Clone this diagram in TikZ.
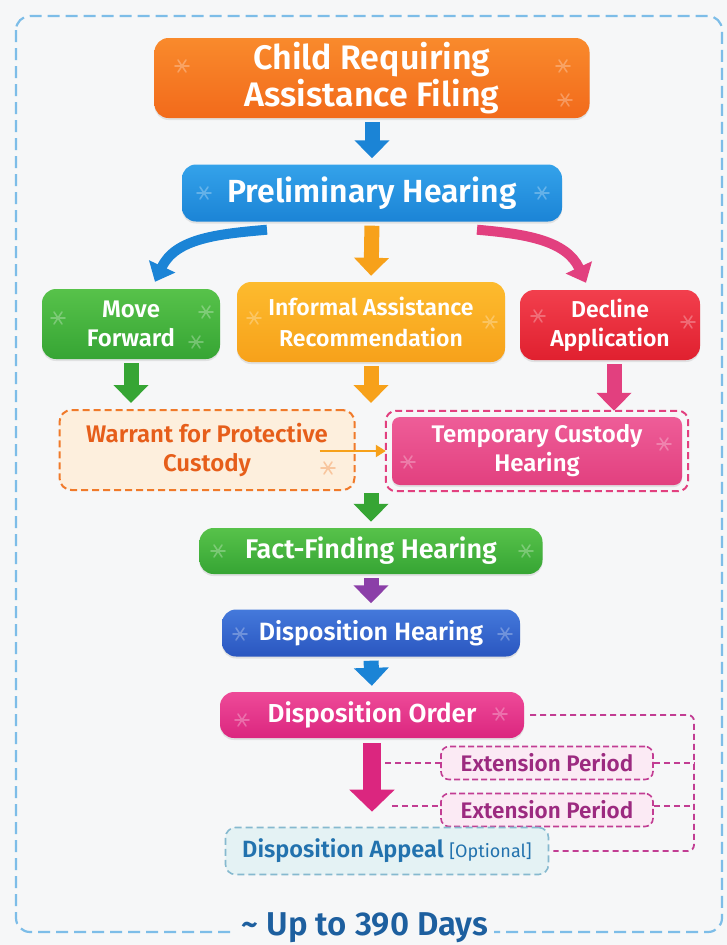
\documentclass[tikz,border=0pt]{standalone}
\usepackage{fontspec}
\setmainfont{Fira Sans}[BoldFont={Fira Sans SemiBold}]
\usetikzlibrary{arrows.meta,shadows,calc}
\definecolor{bgc}{HTML}{F6F7F8}
\definecolor{frame}{HTML}{7DBDE8}
\definecolor{orA}{HTML}{F98A2C}\definecolor{orB}{HTML}{F26A1B}
\definecolor{blA}{HTML}{34A2EA}\definecolor{blB}{HTML}{1B84D6}
\definecolor{grA}{HTML}{57C24A}\definecolor{grB}{HTML}{36A534}
\definecolor{yeA}{HTML}{FDBB2E}\definecolor{yeB}{HTML}{F7A11A}
\definecolor{reA}{HTML}{F23F4D}\definecolor{reB}{HTML}{E0202F}
\definecolor{pkA}{HTML}{EE5D98}\definecolor{pkB}{HTML}{E2407F}
\definecolor{dbA}{HTML}{4479DB}\definecolor{dbB}{HTML}{2A56C0}
\definecolor{mgA}{HTML}{EE4A98}\definecolor{mgB}{HTML}{DB267F}
\definecolor{purp}{HTML}{8B3FA8}
\definecolor{warfill}{HTML}{FDEFDD}\definecolor{warline}{HTML}{F07A2A}\definecolor{wartext}{HTML}{E65E1A}
\definecolor{extfill}{HTML}{FBEAF4}\definecolor{extline}{HTML}{C23D93}\definecolor{exttext}{HTML}{9C2A80}
\definecolor{appfill}{HTML}{E4F2F4}\definecolor{appline}{HTML}{86B9CF}\definecolor{apptext}{HTML}{2272AE}
\definecolor{daytext}{HTML}{1D5F9F}
\begin{document}
\begin{tikzpicture}[x=1pt,y=-1pt,
  box/.style={rounded corners=14pt, text=white, align=center, inner sep=0pt,
    drop shadow={opacity=0.18,shadow xshift=0pt,shadow yshift=-2pt}},
  barrow/.style={line width=15pt, -{Triangle[width=34pt,length=18pt]}, shorten <=4pt, shorten >=6pt},
  carrow/.style={line width=10pt, -{Triangle[width=28pt,length=17pt]}},
  dline/.style={draw=extline, line width=1.8pt, dash pattern=on 6pt off 4pt},
  spark/.pic={\draw[line width=1.6pt, line cap=round] (-7,0)--(7,0) (-4,-6)--(4,6) (-4,6)--(4,-6);}
]
\fill[bgc] (0,0) rectangle (727,945);
\useasboundingbox (0,0) rectangle (727,945);
\draw[frame, line width=2.2pt, dash pattern=on 12pt off 6pt, rounded corners=14pt] (16,16) rectangle (722,932);

% main nodes
\node[box, top color=orA, bottom color=orB, minimum width=435pt, minimum height=80pt,
  font=\fontsize{34}{37}\selectfont\bfseries] (cra) at (372,78) {Child Requiring\\Assistance Filing};
\node[box, top color=blA, bottom color=blB, minimum width=380pt, minimum height=57pt,
  font=\fontsize{32}{34}\selectfont\bfseries] (pre) at (372,193) {Preliminary Hearing};
\node[box, top color=grA, bottom color=grB, minimum width=178pt, minimum height=70pt,
  font=\fontsize{24}{29}\selectfont\bfseries] (mf) at (131,324) {Move\\Forward};
\node[box, top color=yeA, bottom color=yeB, minimum width=268pt, minimum height=80pt,
  font=\fontsize{23}{31}\selectfont\bfseries] (inf) at (371,322) {Informal Assistance\\Recommendation};
\node[box, top color=reA, bottom color=reB, minimum width=180pt, minimum height=70pt,
  font=\fontsize{23}{29}\selectfont\bfseries] (dec) at (610,325) {Decline\\Application};
\node[rounded corners=12pt, fill=warfill, draw=warline, line width=2pt, dash pattern=on 7pt off 4pt,
  minimum width=295pt, minimum height=80pt, align=center, text=wartext,
  font=\fontsize{24}{29}\selectfont\bfseries] (war) at (207,450) {Warrant for Protective\\Custody};
\node[box, top color=pkA, bottom color=pkB, rounded corners=8pt, minimum width=290pt, minimum height=68pt,
  font=\fontsize{24}{29}\selectfont\bfseries] (tch) at (537,451) {Temporary Custody\\Hearing};
\draw[pkB, line width=2pt, dash pattern=on 7pt off 4pt, rounded corners=10pt]
  ([shift={(-6pt,6pt)}]tch.north west) rectangle ([shift={(6pt,-6pt)}]tch.south east);
\node[box, top color=grA, bottom color=grB, minimum width=343pt, minimum height=46pt,
  font=\fontsize{27}{30}\selectfont\bfseries] (fact) at (371,551) {Fact-Finding Hearing};
\node[box, top color=dbA, bottom color=dbB, minimum width=298pt, minimum height=47pt,
  font=\fontsize{25}{30}\selectfont\bfseries] (dh) at (371,633) {Disposition Hearing};
\node[box, top color=mgA, bottom color=mgB, minimum width=304pt, minimum height=46pt,
  font=\fontsize{26}{30}\selectfont\bfseries] (dord) at (372,715) {Disposition Order};
\node[rounded corners=8pt, fill=extfill, draw=extline, line width=1.6pt, dash pattern=on 6pt off 3pt,
  minimum width=212pt, minimum height=33pt, text=exttext, inner sep=0pt,
  font=\fontsize{22.5}{24}\selectfont\bfseries] (ext1) at (547,763) {Extension Period};
\node[rounded corners=8pt, fill=extfill, draw=extline, line width=1.6pt, dash pattern=on 6pt off 3pt,
  minimum width=212pt, minimum height=33pt, text=exttext, inner sep=0pt,
  font=\fontsize{22.5}{24}\selectfont\bfseries] (ext2) at (547,810) {Extension Period};
\node[rounded corners=10pt, fill=appfill, draw=appline, line width=1.6pt, dash pattern=on 7pt off 4pt,
  minimum width=323pt, minimum height=47pt, text=apptext, inner sep=0pt,
  font=\fontsize{23.5}{26}\selectfont\bfseries] (app) at (387,851) {Disposition Appeal {\fontsize{18}{20}\selectfont\mdseries[Optional]}};
\node[fill=bgc, text=daytext, inner xsep=6pt, inner ysep=2pt,
  font=\fontsize{33}{36}\selectfont\bfseries] (days) at (365,928) {\textasciitilde\ Up to 390 Days};

% sparkles
\begin{scope}[white, opacity=0.28]
\foreach \p in {(182,66),(563,66),(565,100),(204,193),(542,193),(58,318),(206,312),(196,342),
  (254,318),(490,322),(538,316),(688,322),(408,462),(664,444),(218,551),(526,551),
  (240,634),(505,634),(242,720),(500,714)} \pic at \p {spark};
\end{scope}
\pic[warline, opacity=0.35] at (328,468) {spark};

% arrows
\draw[barrow, blB] (cra.south) -- (pre.north);
\draw[barrow, yeB] (pre.south) -- (inf.north);
\draw[carrow, blB] ([xshift=-105pt,yshift=-8pt]pre.south) to[out=185,in=65] ([xshift=24pt,yshift=7pt]mf.north);
\draw[carrow, pkB] ([xshift=105pt,yshift=-8pt]pre.south) to[out=-5,in=115] ([xshift=-24pt,yshift=7pt]dec.north);
\draw[barrow, grB] (mf.south) -- (mf.south |- war.north);
\draw[barrow, yeB] (inf.south) -- (inf.south |- war.north);
\draw[barrow, pkB] ([xshift=4pt]dec.south) -- ([xshift=4pt]dec.south |- tch.north);
\draw[line width=2.2pt, yeB, -{Triangle[width=12pt,length=10pt]}] ([xshift=-36pt,yshift=-1pt]war.east) -- ([xshift=-6pt]tch.west);
\draw[barrow, grB, shorten <=2pt] (fact.north |- war.south) -- (fact.north);
\draw[barrow, purp] (fact.south) -- (dh.north);
\draw[barrow, blB] (dh.south) -- (dord.north);
\draw[line width=18pt, mgB, -{Triangle[width=44pt,length=22pt]}, shorten <=5pt, shorten >=15pt] (dord.south) -- (dord.south |- app.north);

% dashed connectors
\coordinate (a1) at (385,763);
\coordinate (a2) at (392,806);
\coordinate (rb) at (694,0);
\draw[dline] (a1) -- (ext1.west);
\draw[dline] (a2) -- ([yshift=4pt]ext2.west);
\draw[dline] (ext1.east) -- (ext1.east -| rb);
\draw[dline] ([yshift=4pt]ext2.east) -- ([yshift=4pt]ext2.east -| rb);
\draw[dline, rounded corners=6pt] ([xshift=6pt]dord.east) -- (dord.east -| rb) -- (app.east -| rb) -- ([xshift=4pt]app.east);
\end{tikzpicture}
\end{document}
